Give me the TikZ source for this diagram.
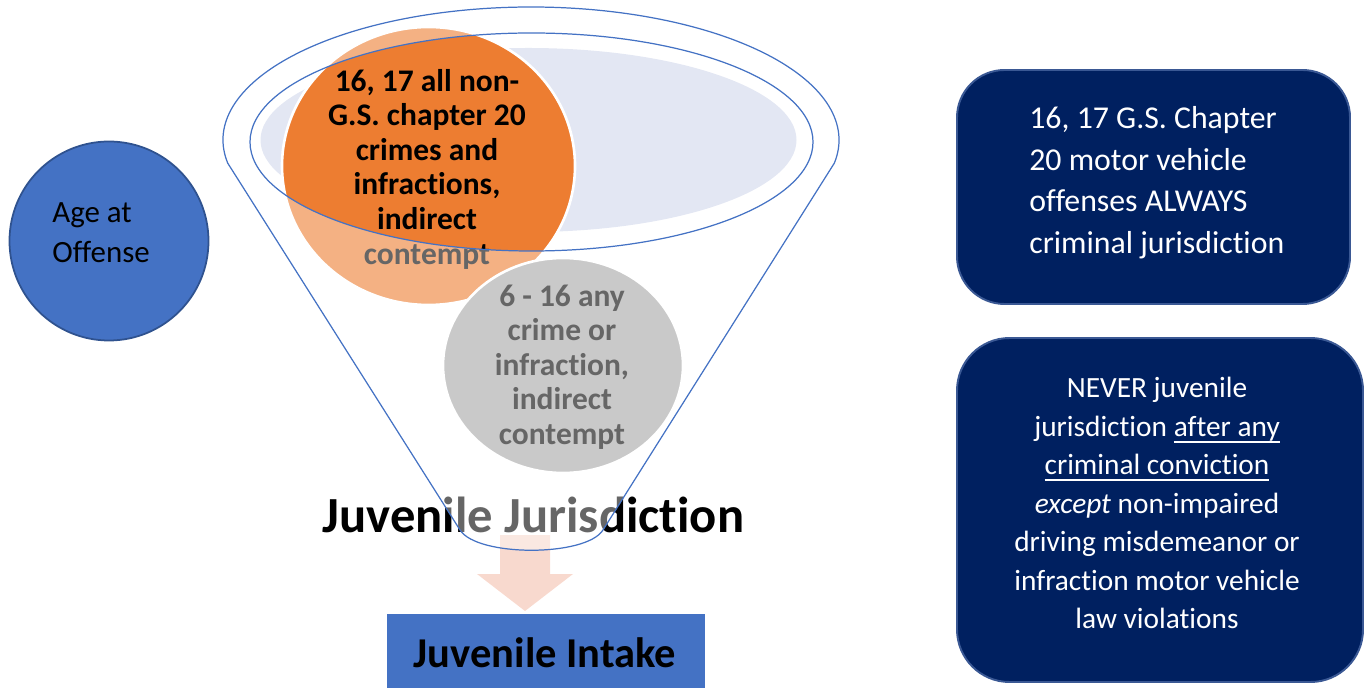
\documentclass[tikz,border=0pt]{standalone}
\usepackage{fontspec}
\setmainfont{Carlito}[Ligatures={NoCommon}]
\definecolor{ageblue}{HTML}{4472C4}
\definecolor{ageborder}{HTML}{2F528F}
\definecolor{navy}{HTML}{002060}
\definecolor{navyborder}{HTML}{3A5894}
\definecolor{lav}{HTML}{E3E7F3}
\definecolor{orng}{HTML}{ED7D31}
\definecolor{grayc}{HTML}{A5A5A5}
\definecolor{arrowc}{HTML}{F8D9CE}
\newcommand\myul[1]{\leavevmode\setbox0\hbox{#1}\rlap{\rule[-0.22em]{\wd0}{0.055em}}\box0}
\begin{document}
\begin{tikzpicture}[x=0.02cm,y=-0.02cm,
  funnelline/.style={draw=ageblue, line width=0.7pt},
  circtext/.style={align=center, inner sep=0pt, font=\bfseries\fontsize{17.9pt}{19.7pt}\selectfont},
  navybox/.style={fill=navy, draw=navyborder, line width=1.1pt},
  wtext/.style={text=white, inner sep=0pt}]
\useasboundingbox (0,0) rectangle (1368,688);
% age circle
\filldraw[fill=ageblue, draw=ageborder, line width=1pt] (109,241) circle[radius=99.5];
\node[anchor=west, align=left, inner sep=0pt, font=\fontsize{17.6pt}{22.7pt}\selectfont] (agetext) at (52,232.5) {Age at\\Offense};
% lavender ellipse
\fill[lav] (528.5,140) ellipse[x radius=268, y radius=92];
% circles
\filldraw[fill=orng, draw=white, line width=1.5pt] (428.5,166) ellipse[x radius=146.5, y radius=139];
\filldraw[fill=grayc, draw=white, line width=1.5pt] (563,365.5) ellipse[x radius=120, y radius=107.5];
\node[circtext] (otext) at (427,169) {16, 17 all non-\\G.S. chapter 20\\crimes and\\infractions,\\indirect\\contempt};
\node[circtext] (gtext) at (562,367) {6 - 16 any\\crime or\\infraction,\\indirect\\contempt};
\node[anchor=base, inner sep=0pt, font=\bfseries\fontsize{28.8pt}{30pt}\selectfont] (jj) at (533.5,533) {Juvenile Jurisdiction};
% arrow
\fill[arrowc] (500,535) -- (550,535) -- (550,574) -- (573,574) -- (525,611) -- (477,574) -- (500,574) -- cycle;
% funnel overlay
\fill[white, fill opacity=0.4, even odd rule] (227.7,163.1) arc[start angle=170, end angle=370, x radius=308, y radius=133] -- (603,530) .. controls (586,557) and (477,557) .. (460,530) -- cycle (531.5,142) ellipse[x radius=281.5, y radius=109];
\draw[funnelline] (227.7,163.1) arc[start angle=170, end angle=370, x radius=308, y radius=133] -- (603,530) .. controls (586,557) and (477,557) .. (460,530) -- cycle;
\draw[funnelline] (531.5,142) ellipse[x radius=281.5, y radius=109];
% intake
\fill[ageblue] (387,614) rectangle (705,692);
\node[anchor=base, inner sep=0pt, font=\bfseries\fontsize{24.2pt}{26pt}\selectfont] (intake) at (545,667) {Juvenile Intake};
% right boxes
\draw[navybox, rounded corners=0.95cm] (957,70) rectangle (1350,304);
\draw[navybox, rounded corners=1.05cm] (957,338) rectangle (1363,682);
\node[wtext, anchor=west, align=left, font=\fontsize{18.1pt}{23.6pt}\selectfont] (b1text) at (1029,182.5) {16, 17 G.S. Chapter\\20 motor vehicle\\offenses ALWAYS\\criminal jurisdiction};
\node[wtext, align=center, font=\fontsize{16.7pt}{21.9pt}\selectfont] (b2text) at (1157,503) {NEVER juvenile\\jurisdiction \myul{after any}\\\myul{criminal conviction}\\\textit{except} non-impaired\\driving misdemeanor or\\infraction motor vehicle\\law violations};
\end{tikzpicture}
\end{document}
